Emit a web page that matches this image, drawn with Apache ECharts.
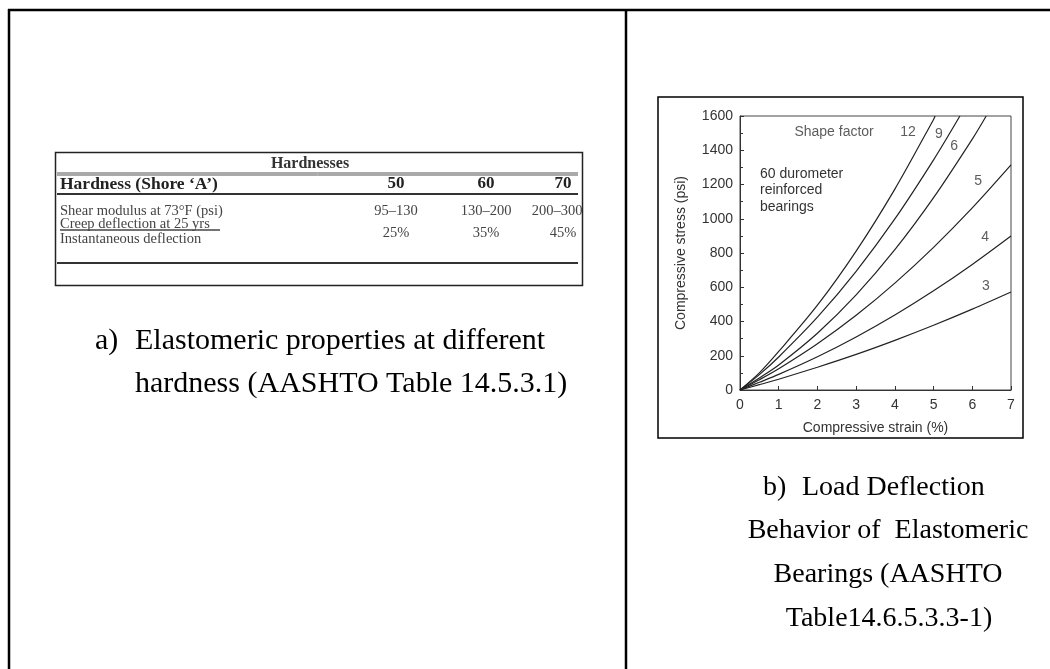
<!DOCTYPE html>
<html>
<head>
<meta charset="utf-8">
<script src="https://cdn.jsdelivr.net/npm/echarts@6/dist/echarts.min.js"></script>
<style>
html, body { margin: 0; padding: 0; background: #fff; }
#main { width: 1050px; height: 669px; }
</style>
</head>
<body>
<div id="main"></div>
<script>
// stress-strain curves, [strain %, stress psi]
var sf12 = [[0,0],[0.5,100],[1,225],[2,495],[3,811],[4,1173],[5,1580],[5.04,1600]];
var sf9  = [[0,0],[0.5,90],[1,193],[2,425],[3,693],[4,999],[5,1344],[5.68,1600]];
var sf6  = [[0,0],[0.5,70],[1,146],[2,331],[3,555],[4,819],[5,1123],[6,1465],[6.36,1600]];
var sf5  = [[0,0],[0.5,60],[1,124],[2,270],[3,436],[4,624],[5,833],[6,1063],[7,1314]];
var sf4  = [[0,0],[0.5,45],[1,91],[2,194],[3,310],[4,438],[5,579],[6,733],[7,899]];
var sf3  = [[0,0],[0.5,31],[1,63],[2,133],[3,208],[4,290],[5,378],[6,472],[7,572]];

// labels placed inside the plot, in data coordinates
var curveLabels = ['12', '9', '6', '5', '4', '3', 'Shape factor'];
var curveLabelPos = [[4.34,1506],[5.14,1495],[5.53,1425],[6.15,1220],[6.33,893],[6.35,607],[2.43,1506]];
var noteLines = ['60 durometer', 'reinforced', 'bearings'];

// table on the left panel
var tableTitle = 'Hardnesses';
var headRow = ['Hardness (Shore \u2018A\u2019)', '50', '60', '70'];
var shearRow = ['Shear modulus at 73\u00b0F (psi)', '95\u2013130', '130\u2013200', '200\u2013300'];
var creepTop = 'Creep deflection at 25 yrs';
var creepBottom = 'Instantaneous deflection';
var creepVals = ['25%', '35%', '45%'];

var captionA = ['a)', 'Elastomeric properties at different', 'hardness (AASHTO Table 14.5.3.1)'];
var captionB = ['b)', 'Load Deflection', 'Behavior of  Elastomeric', 'Bearings (AASHTO', 'Table14.6.5.3.3-1)'];

var serif = '"Liberation Serif", "Times New Roman", serif';
var sans = '"Liberation Sans", Arial, sans-serif';
var headX = [396, 486, 563];
var colX = [396, 486, 557];

function txt(x, y, s, size, opts) {
  opts = opts || {};
  return {
    type: 'text', x: x, y: y, silent: true,
    style: {
      text: s, fontFamily: opts.font || serif, fontSize: size,
      fontWeight: opts.bold ? 'bold' : 'normal',
      fill: opts.color || '#000',
      textAlign: opts.align || 'left', textVerticalAlign: 'middle'
    }
  };
}
function hline(x1, x2, y, w, c) {
  return { type: 'line', silent: true, shape: { x1: x1, y1: y, x2: x2, y2: y },
    style: { stroke: c || '#000', lineWidth: w } };
}
function vline(x, y1, y2, w, c) {
  return { type: 'line', silent: true, shape: { x1: x, y1: y1, x2: x, y2: y2 },
    style: { stroke: c || '#000', lineWidth: w } };
}

var g = [];
// page frame
g.push(hline(8, 1050, 10, 2.5));
g.push(vline(9, 9, 669, 2.5));
g.push(vline(626, 9, 669, 2.5));

// table
g.push({ type: 'rect', silent: true, shape: { x: 55.5, y: 152.5, width: 527, height: 133 },
  style: { fill: 'none', stroke: '#222', lineWidth: 1.5 } });
g.push(txt(310, 164, tableTitle, 16, { bold: true, align: 'center', color: '#333' }));
g.push(hline(57, 578, 173, 1, '#555'));
g.push(hline(57, 578, 175, 1, '#555'));
g.push(txt(60, 184, headRow[0], 17.5, { bold: true, color: '#222' }));
for (var i = 0; i < 3; i++) g.push(txt(headX[i], 184, headRow[i + 1], 17, { bold: true, color: '#222', align: 'center' }));
g.push(hline(57, 578, 194, 2, '#333'));
g.push(txt(60, 211, shearRow[0], 14.5, { color: '#444' }));
for (var i = 0; i < 3; i++) g.push(txt(colX[i], 211, shearRow[i + 1], 14.5, { color: '#444', align: 'center' }));
g.push(txt(60, 224, creepTop, 14.5, { color: '#444' }));
g.push(hline(60, 220, 230, 1.3, '#444'));
g.push(txt(60, 239, creepBottom, 14.5, { color: '#444' }));
for (var i = 0; i < 3; i++) g.push(txt(headX[i], 233, creepVals[i], 14.5, { color: '#444', align: 'center' }));
g.push(hline(57, 578, 263, 2, '#333'));

// captions
g.push(txt(95, 341, captionA[0], 30));
g.push(txt(135, 341, captionA[1], 30));
g.push(txt(135, 384, captionA[2], 30));
g.push(txt(763, 488, captionB[0], 28));
g.push(txt(802, 488, captionB[1], 28));
g.push(txt(888, 531, captionB[2], 28, { align: 'center' }));
g.push(txt(888, 575, captionB[3], 28, { align: 'center' }));
g.push(txt(889, 619, captionB[4], 28, { align: 'center' }));

// chart box
g.push({ type: 'rect', silent: true, shape: { x: 658, y: 97, width: 365, height: 341 },
  style: { fill: 'none', stroke: '#000', lineWidth: 1.5 } });
// note text
for (var i = 0; i < noteLines.length; i++) g.push(txt(760, 174 + i * 16.5, noteLines[i], 14, { font: sans, color: '#333' }));

var curves = [sf12, sf9, sf6, sf5, sf4, sf3];
var series = [];
for (var i = 0; i < curves.length; i++) {
  series.push({
    type: 'line', data: curves[i], smooth: 0.3, showSymbol: false, silent: true,
    lineStyle: { color: '#222', width: 1.2 }, z: 3
  });
}
var labelData = [];
for (var i = 0; i < curveLabels.length; i++) {
  labelData.push({ value: curveLabelPos[i], name: curveLabels[i] });
}
series.push({
  type: 'scatter', data: labelData, symbolSize: 0, silent: true,
  label: { show: true, position: 'inside', formatter: '{b}', fontFamily: sans, fontSize: 14, color: '#333' }
});

var chart = echarts.init(document.getElementById('main'));
chart.setOption({
  backgroundColor: '#fff',
  animation: false,
  grid: { left: 740, top: 116, right: 39, bottom: 279, show: true, borderColor: '#444', borderWidth: 1 },
  xAxis: {
    type: 'value', min: 0, max: 7, interval: 1,
    name: 'Compressive strain (%)', nameLocation: 'middle', nameGap: 31,
    nameTextStyle: { fontFamily: sans, fontSize: 14, color: '#333' },
    axisLine: { lineStyle: { color: '#333' } },
    axisTick: { inside: true, length: 4, lineStyle: { color: '#333' } },
    axisLabel: { fontFamily: sans, fontSize: 14, color: '#333', margin: 8 },
    splitLine: { show: false }
  },
  yAxis: {
    type: 'value', min: 0, max: 1600, interval: 200,
    name: 'Compressive stress (psi)', nameLocation: 'middle', nameGap: 52,
    nameTextStyle: { fontFamily: sans, fontSize: 14, color: '#333' },
    axisLine: { show: true, lineStyle: { color: '#333' } },
    axisTick: { show: true, inside: true, length: 4, lineStyle: { color: '#333' } },
    minorTick: { show: true, splitNumber: 2, length: 3, lineStyle: { color: '#333' } },
    axisLabel: { fontFamily: sans, fontSize: 14, color: '#333', margin: 7, formatter: function (v) { return String(v); } },
    splitLine: { show: false }
  },
  graphic: g,
  series: series
});
</script>
</body>
</html>
